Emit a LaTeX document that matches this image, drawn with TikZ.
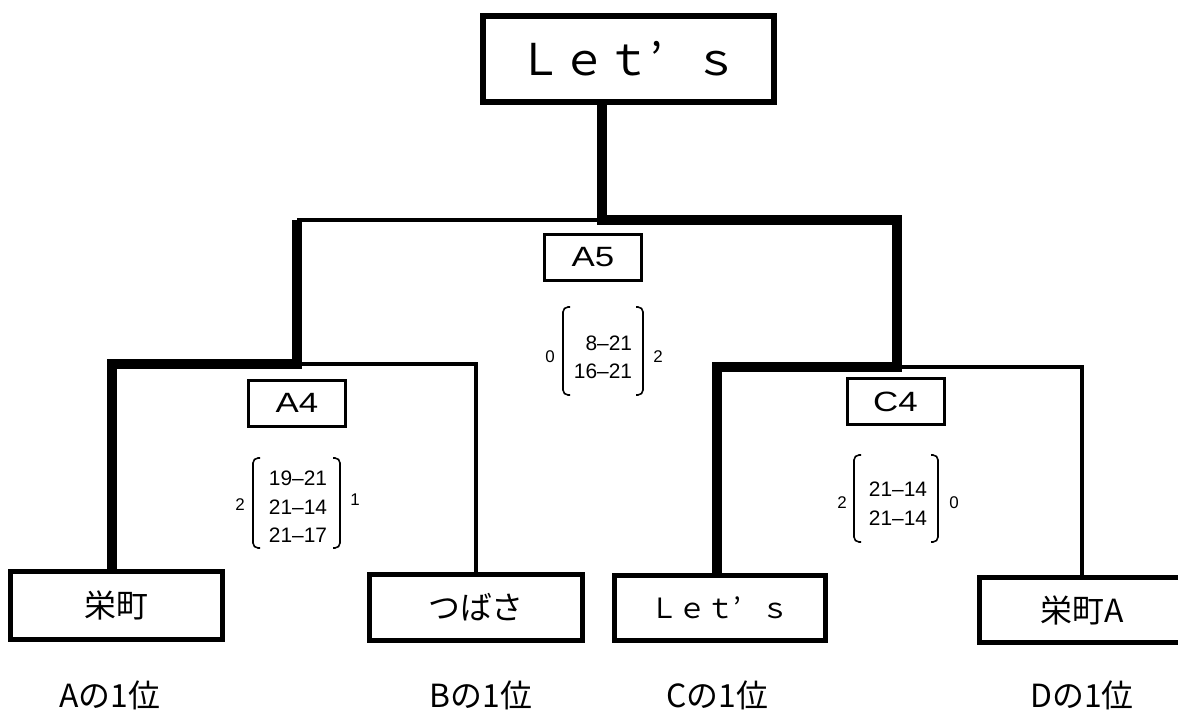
\documentclass[tikz,border=0pt]{standalone}
\usepackage{fontspec}
\setmainfont{Liberation Sans}
\newfontfamily\jp{Noto Sans CJK JP}
\newfontfamily\widesans[FakeStretch=1.25]{Liberation Sans}
\newcommand\fwq{\makebox[1em][l]{’}}

\begin{document}
\begin{tikzpicture}[x=1bp, y=-1bp,
    team/.style={draw, line width=5.5bp, inner sep=0pt, font=\jp\fontsize{32}{32}\selectfont},
    matchbox/.style={draw, line width=3bp, minimum width=97bp, minimum height=46bp, inner sep=0pt, font=\widesans\fontsize{28}{28}\selectfont},
    win/.style={line width=10bp, line join=miter},
    lose/.style={line width=4bp, line join=miter},
    brace/.style={line width=1.6bp, rounded corners=5bp},
    score/.style={font=\fontsize{21}{28.5}\selectfont, align=center, inner sep=0pt},
    games/.style={font=\fontsize{17}{17}\selectfont, inner sep=0pt},
    place/.style={font=\jp\fontsize{32}{32}\selectfont, anchor=base, inner sep=0pt}]
    \useasboundingbox (0,0) rectangle (1178,710);
    % teams
    \node[team, minimum width=291bp, minimum height=86bp, font=\jp\fontsize{44}{44}\selectfont] (champ) at (628.5,59) {Ｌｅｔ\fwq ｓ};
    \node[team, minimum width=212bp, minimum height=68bp] (sakae) at (116.5,605.5) {栄町};
    \node[team, minimum width=213bp, minimum height=66bp] (tsubasa) at (476,607.5) {つばさ};
    \node[team, minimum width=211bp, minimum height=65bp, font=\jp\fontsize{28}{28}\selectfont] (lets) at (720,608) {Ｌｅｔ\fwq ｓ};
    \node[team, minimum width=205bp, minimum height=65bp] (sakaeA) at (1082,610) {栄町A};
    % matches
    \node[matchbox] (a5) at (593,257.5) {A5};
    \node[matchbox] (a4) at (297,403) {A4};
    \node[matchbox] (c4) at (895.5,401.5) {C4};
    % bracket corners
    \coordinate (f)  at (602,220);
    \coordinate (fl) at (297,220);
    \coordinate (fr) at (897,220);
    \coordinate (l)  at (297,364);
    \coordinate (ll) at (112,364);
    \coordinate (lr) at (476,364);
    \coordinate (r)  at (897,367);
    \coordinate (rl) at (717,367);
    \coordinate (rr) at (1082,367);
    \draw[lose] (f) -- (fl);
    \draw[lose] (l) -- (lr) -- (lr |- tsubasa.north);
    \draw[lose] (r) -- (rr) -- (rr |- sakaeA.north);
    \draw[win] (champ.south -| f) -- (f) -- (fr) -- (r) -- (rl) -- (rl |- lets.north);
    \draw[win] (fl) -- (l) -- (ll) -- (ll |- sakae.north);
    % A5 score
    \draw[brace] (570,307) -- (563,307) -- (563,395) -- (570,395);
    \draw[brace] (636,307) -- (643,307) -- (643,395) -- (636,395);
    \node[score, align=right] (a5s) at (603,357) {8–21\\16–21};
    \node[games] (a5l) at (550,357) {0};
    \node[games] (a5r) at (658,357) {2};
    % A4 score
    \draw[brace] (260,458) -- (253,458) -- (253,548) -- (260,548);
    \draw[brace] (333,458) -- (340,458) -- (340,548) -- (333,548);
    \node[score] (a4s) at (298,507) {19–21\\21–14\\21–17};
    \node[games] (a4l) at (240,505) {2};
    \node[games] (a4r) at (355,500) {1};
    % C4 score
    \draw[brace] (861,455) -- (854,455) -- (854,542) -- (861,542);
    \draw[brace] (931,455) -- (938,455) -- (938,542) -- (931,542);
    \node[score] (c4s) at (898,503.5) {21–14\\21–14};
    \node[games] (c4l) at (842,503) {2};
    \node[games] (c4r) at (954,503) {0};
    % group places
    \node[place] (pa) at (110,707) {Aの1位};
    \node[place] (pb) at (481,707) {Bの1位};
    \node[place] (pc) at (717,707) {Cの1位};
    \node[place] (pd) at (1082,707) {Dの1位};
\end{tikzpicture}
\end{document}
